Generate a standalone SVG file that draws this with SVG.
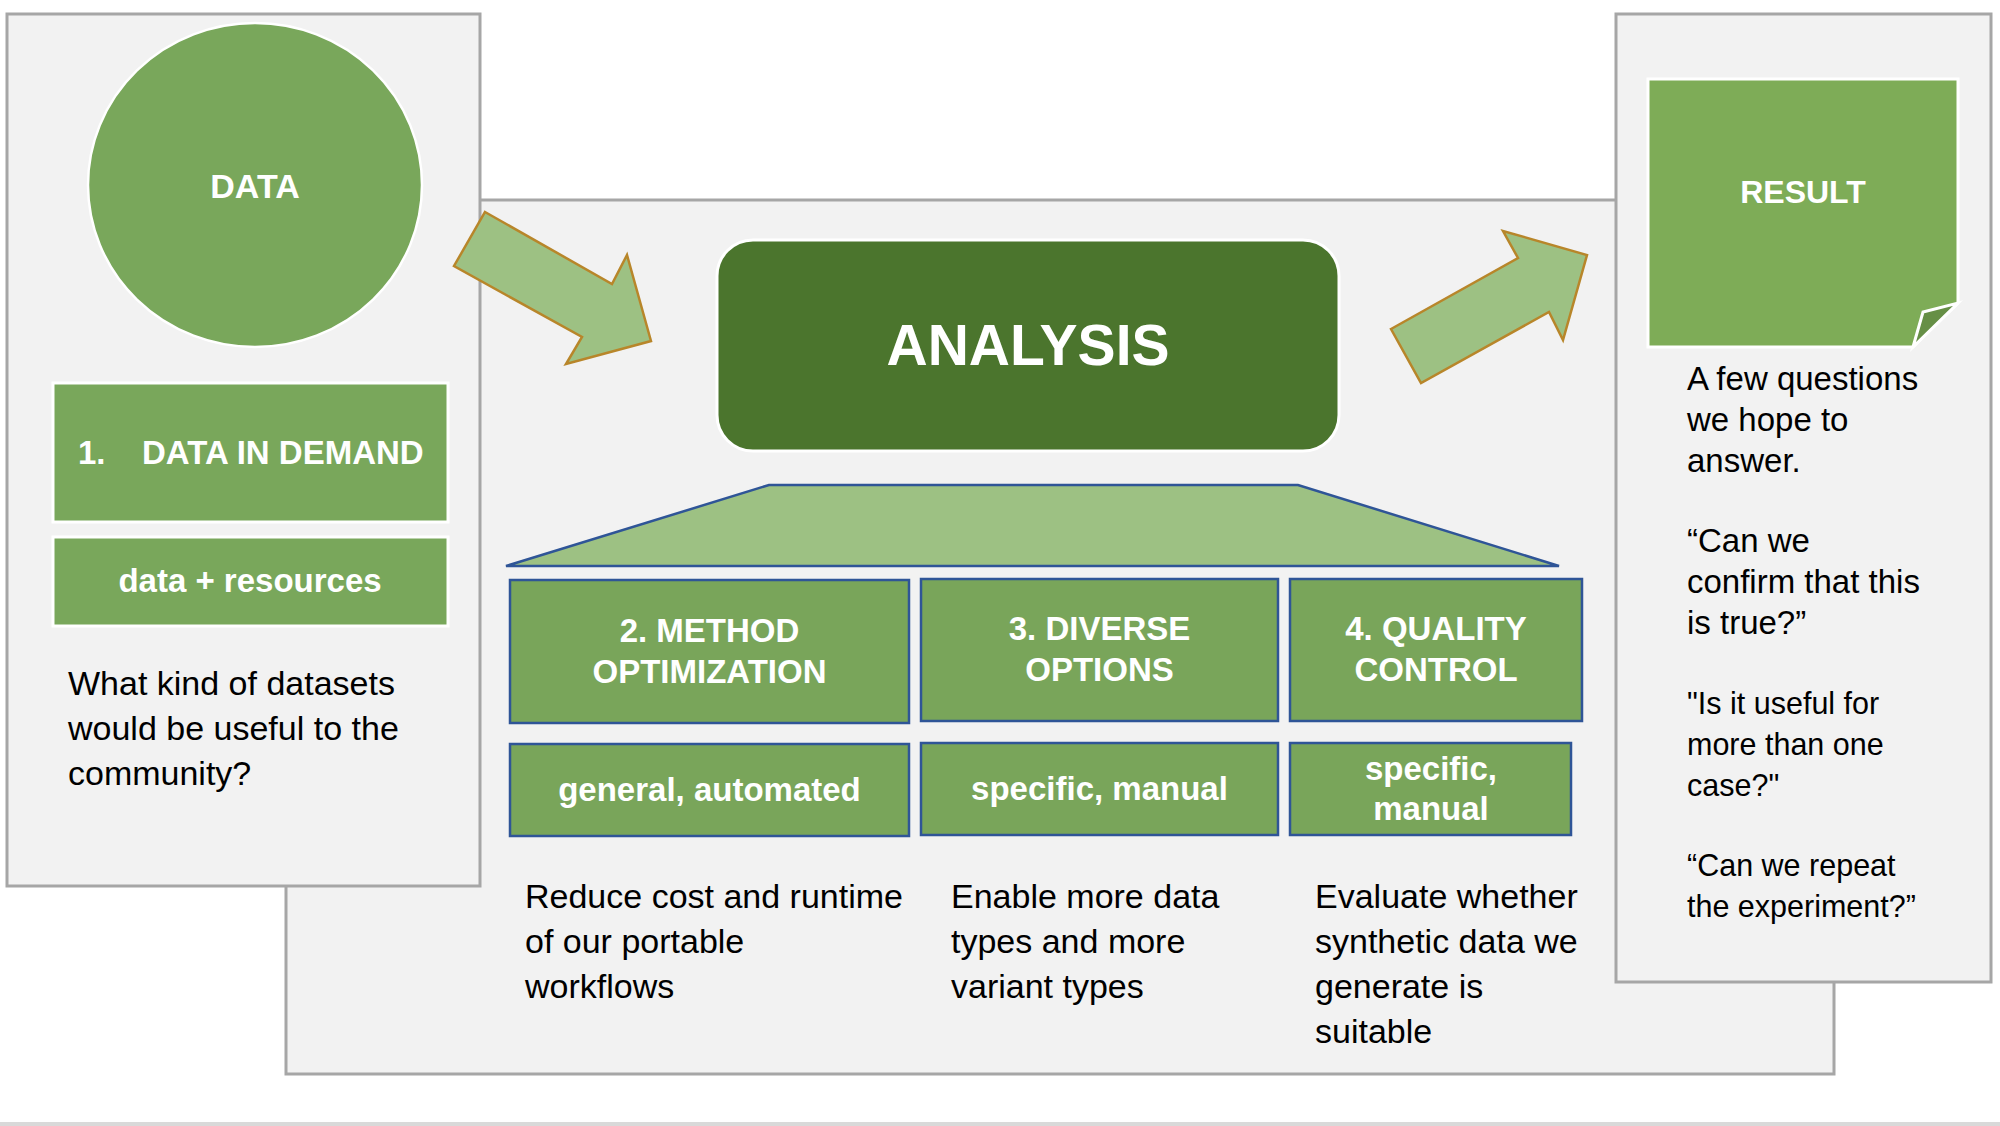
<svg xmlns="http://www.w3.org/2000/svg" width="2000" height="1126" viewBox="0 0 2000 1126">
<style>
.panel{fill:#f2f2f2;stroke:#a6a6a6;stroke-width:3}
.lbox{fill:#79a75b;stroke:#ffffff;stroke-width:3}
.abox{fill:#79a55a;stroke:#2f5597;stroke-width:2.5}
.arrow{fill:#9dc183;stroke:#b8862a;stroke-width:2.5;stroke-linejoin:miter}
.wb{font-family:"Liberation Sans",Arial,sans-serif;font-weight:bold;fill:#ffffff;text-anchor:middle}
.body{font-family:"Liberation Sans",Arial,sans-serif;fill:#000000}
</style>
<rect x="0" y="0" width="2000" height="1126" fill="#ffffff"/>
<rect x="0" y="1122" width="2000" height="4" fill="#d9d9d9"/>

<g id="center-panel">
<rect class="panel" x="286" y="200" width="1548" height="874"/>
</g>
<g id="left-panel">
<rect class="panel" x="7" y="14" width="473" height="872"/>
</g>
<g id="right-panel">
<rect class="panel" x="1616" y="14" width="375" height="968"/>
</g>

<g id="data">
<ellipse cx="255" cy="185" rx="167" ry="162" fill="#79a75b" stroke="#ffffff" stroke-width="2.5"/>
<text class="wb" x="255" y="198" font-size="34">DATA</text>
</g>

<g id="data-in-demand">
<rect class="lbox" x="53" y="383" width="395" height="139"/>
<text class="wb" font-size="33" y="464" style="text-anchor:start"><tspan x="78">1.</tspan><tspan x="142">DATA IN DEMAND</tspan></text>
</g>

<g id="data-resources">
<rect class="lbox" x="53" y="537" width="395" height="89"/>
<text class="wb" x="250" y="592" font-size="33">data + resources</text>
</g>

<g id="data-question">
<text class="body" font-size="34"><tspan x="68" y="695">What kind of datasets</tspan><tspan x="68" y="740">would be useful to the</tspan><tspan x="68" y="785">community?</tspan></text>
</g>

<g id="analysis">
<rect x="717" y="240" width="622" height="211" rx="36" ry="36" fill="#4b752d" stroke="#ffffff" stroke-width="3"/>
<text class="wb" x="1028" y="365" font-size="57">ANALYSIS</text>
</g>

<g id="trapezoid">
<polygon points="769,485 1298,485 1559,566 506,566" fill="#9dc183" stroke="#2f5597" stroke-width="2.5"/>
</g>

<g id="method-optimization">
<rect class="abox" x="510" y="580" width="399" height="143"/>
<text class="wb" font-size="33"><tspan x="709.5" y="642">2. METHOD</tspan><tspan x="709.5" y="683">OPTIMIZATION</tspan></text>
</g>
<g id="diverse-options">
<rect class="abox" x="921" y="579" width="357" height="142"/>
<text class="wb" font-size="33"><tspan x="1099.5" y="640">3. DIVERSE</tspan><tspan x="1099.5" y="681">OPTIONS</tspan></text>
</g>
<g id="quality-control">
<rect class="abox" x="1290" y="579" width="292" height="142"/>
<text class="wb" font-size="33"><tspan x="1436" y="640">4. QUALITY</tspan><tspan x="1436" y="681">CONTROL</tspan></text>
</g>

<g id="general-automated">
<rect class="abox" x="510" y="744" width="399" height="92"/>
<text class="wb" x="709.5" y="801" font-size="33">general, automated</text>
</g>
<g id="specific-manual-1">
<rect class="abox" x="921" y="743" width="357" height="92"/>
<text class="wb" x="1099.5" y="800" font-size="33">specific, manual</text>
</g>
<g id="specific-manual-2">
<rect class="abox" x="1290" y="743" width="281" height="92"/>
<text class="wb" font-size="33"><tspan x="1431" y="780">specific,</tspan><tspan x="1431" y="820">manual</tspan></text>
</g>

<g id="desc-method">
<text class="body" font-size="34"><tspan x="525" y="908">Reduce cost and runtime</tspan><tspan x="525" y="953">of our  portable</tspan><tspan x="525" y="998">workflows</tspan></text>
</g>
<g id="desc-diverse">
<text class="body" font-size="34"><tspan x="951" y="908">Enable more data</tspan><tspan x="951" y="953">types and more</tspan><tspan x="951" y="998">variant types</tspan></text>
</g>
<g id="desc-quality">
<text class="body" font-size="34"><tspan x="1315" y="908">Evaluate whether</tspan><tspan x="1315" y="953">synthetic data we</tspan><tspan x="1315" y="998">generate is</tspan><tspan x="1315" y="1043">suitable</tspan></text>
</g>

<g id="result">
<path d="M1648,79 H1958 V303 L1913,347 H1648 Z" fill="#7eac57" stroke="#ffffff" stroke-width="3"/>
<path d="M1913,347 L1923,312 L1958,303 Z" fill="#668f46" stroke="#ffffff" stroke-width="3" stroke-linejoin="miter"/>
<text class="wb" x="1803" y="203" font-size="32">RESULT</text>
</g>

<g id="result-questions">
<text class="body" font-size="33"><tspan x="1687" y="390">A few questions</tspan><tspan x="1687" y="431">we hope to</tspan><tspan x="1687" y="472">answer.</tspan><tspan x="1687" y="552">“Can we</tspan><tspan x="1687" y="593">confirm that this</tspan><tspan x="1687" y="634">is true?”</tspan></text>
<text class="body" font-size="30.5"><tspan x="1687" y="714">"Is it useful for</tspan><tspan x="1687" y="755">more than one</tspan><tspan x="1687" y="796">case?"</tspan><tspan x="1687" y="876">“Can we repeat</tspan><tspan x="1687" y="917">the experiment?”</tspan></text>
</g>

<g id="connectors">
<polygon class="arrow" points="485,212 612,284 627,255 651,341 566,364 582,337 454,266"/>
<polygon class="arrow" points="1391,329 1518,258 1503,231 1587,255 1563,340 1549,312 1421,383"/>
</g>
</svg>
